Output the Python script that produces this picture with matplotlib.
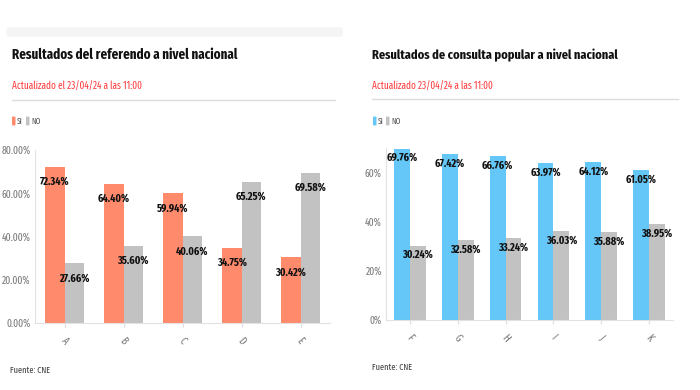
import matplotlib
matplotlib.use("Agg")
import matplotlib.pyplot as plt
from matplotlib.patches import FancyBboxPatch

plt.rcParams["font.family"] = ["Fira Sans Extra Condensed", "Fira Sans Condensed",
                               "Roboto Condensed", "DejaVu Sans"]

# ── datos ─────────────────────────────────────
REF_CATS = ["A", "B", "C", "D", "E"]
REF_SI = [72.34, 64.40, 59.94, 34.75, 30.42]
REF_NO = [27.66, 35.60, 40.06, 65.25, 69.58]
REF_TICKS = [0, 20, 40, 60, 80]

CON_CATS = ["F", "G", "H", "I", "J", "K"]
CON_SI = [69.76, 67.42, 66.76, 63.97, 64.12, 61.05]
CON_NO = [30.24, 32.58, 33.24, 36.03, 35.88, 38.95]
CON_TICKS = [0, 20, 40, 60]

ORANGE = "#FF8A6C"
BLUE = "#64C7F7"
GRAY = "#C2C2C2"
RED = "#FF3B3B"

W, H = 700, 390
fig = plt.figure(figsize=(7, 3.9), dpi=100)
fig.patch.set_facecolor("white")
renderer = fig.canvas.get_renderer()


def fit(t, width_px):
    """ajusta el tamaño de fuente para que el texto ocupe width_px"""
    w = t.get_window_extent(renderer).width
    t.set_fontsize(t.get_fontsize() * width_px / w)


def ftext(px, py, s, width_px=None, **kw):
    t = fig.text(px / W, 1 - py / H, s, va="center", **kw)
    if width_px:
        fit(t, width_px)
    return t


def swatch(px, py, color):
    fig.patches.append(FancyBboxPatch((px / W, 1 - (py + 4.5) / H), 3.5 / W, 9 / H,
                                      transform=fig.transFigure,
                                      boxstyle="round,pad=0,rounding_size=0.002",
                                      facecolor=color, edgecolor="none"))


def draw_panel(rect, cats, si, no, ticks, ymax, color, tick_fmt, lab_size, label_off):
    ax = fig.add_axes(rect)
    x = range(len(cats))
    w = 0.33
    b1 = ax.bar([i - w / 2 for i in x], si, width=w, color=color, zorder=2)
    b2 = ax.bar([i + w / 2 for i in x], no, width=w, color=GRAY, zorder=2)
    for bars, vals in ((b1, si), (b2, no)):
        for bar, v in zip(bars, vals):
            ax.text(bar.get_x() + bar.get_width() / 2, v, f"{v:.2f}%",
                    ha="center", va="top", fontsize=lab_size, fontweight="bold",
                    color="#111111", zorder=3,
                    transform=ax.transData + matplotlib.transforms.ScaledTranslation(
                        0, -label_off / 72, fig.dpi_scale_trans))
    ax.set_xlim(-0.5, len(cats) - 0.5)
    ax.set_ylim(0, ymax)
    ax.set_yticks(ticks)
    ax.set_yticklabels([tick_fmt.format(t) for t in ticks], fontsize=7.5, color="#777777")
    ax.set_xticks(list(x))
    ax.set_xticklabels(cats, rotation=-50, fontsize=7.5, color="#777777")
    ax.tick_params(axis="y", length=0, pad=3)
    ax.tick_params(axis="x", length=3, color="#dddddd", pad=6)
    for s in ("top", "right"):
        ax.spines[s].set_visible(False)
    for s in ("left", "bottom"):
        ax.spines[s].set_color("#e2e2e2")
        ax.spines[s].set_linewidth(0.8)
    return ax


# borde tenue de la tarjeta superior
fig.patches.append(FancyBboxPatch((6 / W, 1 - 37 / H), 337 / W, 10 / H, transform=fig.transFigure,
                                  boxstyle="round,pad=0,rounding_size=0.008",
                                  facecolor="#f5f5f5", edgecolor="none", zorder=0))

# panel izquierdo
ftext(12, 55, "Resultados del referendo a nivel nacional", 225,
      fontweight="bold", color="#111111")
ftext(12, 87, "Actualizado el 23/04/24 a las 11:00", fontsize=7.2, color=RED)
fig.add_artist(plt.Line2D([12 / W, 335 / W], [1 - 100 / H] * 2, color="#dddddd", lw=1))
swatch(12, 121, ORANGE)
ftext(17, 121, "SI", fontsize=6, color="#555555")
swatch(26, 121, GRAY)
ftext(31, 121, "NO", fontsize=6, color="#555555")
ftext(10, 370, "Fuente: CNE", fontsize=6.5, color="#444444")

draw_panel([35 / W, 1 - 323 / H, 295 / W, 173 / H], REF_CATS, REF_SI, REF_NO, REF_TICKS,
           80, ORANGE, "{:.2f}%", 8, 7)

# panel derecho
ftext(372, 55, "Resultados de consulta popular a nivel nacional", 245,
      fontweight="bold", color="#111111")
ftext(372, 87, "Actualizado 23/04/24 a las 11:00", fontsize=7.2, color=RED)
fig.add_artist(plt.Line2D([372 / W, 678 / W], [1 - 99 / H] * 2, color="#dddddd", lw=1))
swatch(373, 121, BLUE)
ftext(378, 121, "SI", fontsize=6, color="#555555")
swatch(386, 121, GRAY)
ftext(391, 121, "NO", fontsize=6, color="#555555")
ftext(372, 367, "Fuente: CNE", fontsize=6.5, color="#444444")

draw_panel([386 / W, 1 - 320 / H, 287 / W, 172 / H], CON_CATS, CON_SI, CON_NO, CON_TICKS,
           70, BLUE, "{:.0f}%", 8, 3)

fig.savefig("out.png", dpi=100, facecolor="white")
